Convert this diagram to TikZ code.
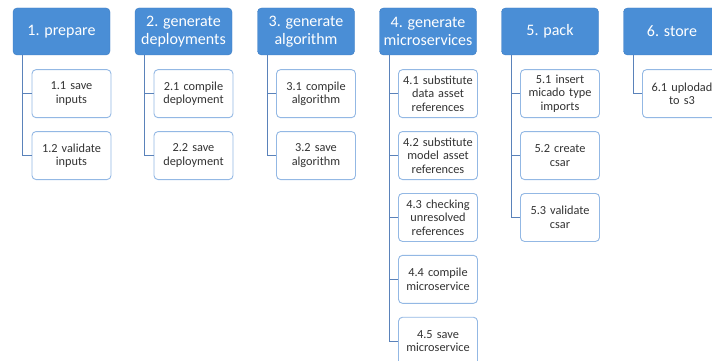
\documentclass[tikz,border=0pt]{standalone}
\usepackage{fontspec}
\setmainfont{Carlito}
\usetikzlibrary{positioning}
\definecolor{stage}{HTML}{4A8ED6}
\definecolor{stageline}{HTML}{3B7BC2}
\definecolor{task}{HTML}{93B8E4}
\definecolor{link}{HTML}{5A82BA}

\begin{document}
\begin{tikzpicture}[x=1pt,y=-1pt,
  stage/.style={rectangle,rounded corners=4pt,fill=stage,draw=stageline,text=white,minimum width=97pt,minimum height=47pt,inner sep=1pt,align=center,font=\fontsize{16}{18}\selectfont},
  task/.style={rectangle,rounded corners=4pt,fill=white,draw=task,line width=0.9pt,text=black!80,minimum width=79pt,minimum height=48pt,text width=77pt,inner sep=1pt,align=center,font=\fontsize{12.3}{13.5}\selectfont},
  link/.style={draw=link,line width=1pt}]
\useasboundingbox (0,0) rectangle (712,361);
\clip (0,0) rectangle (712,361);

\node (p1) [stage] at (61.5,31.5) {1. prepare};
\node (p2) [stage] at (183.5,31.5) {2. generate\\deployments};
\node (p3) [stage] at (306,31.5) {3. generate\\algorithm};
\node (p4) [stage] at (428,31.5) {4. generate\\microservices};
\node (p5) [stage] at (550,31.5) {5. pack};
\node (p6) [stage] at (672,31.5) {6. store};

\node (p1a) [task,below=14pt of p1,xshift=10pt] {1.1 save\\inputs};
\node (p1b) [task,below=13pt of p1a] {1.2 validate\\inputs};

\node (p2a) [task,below=14pt of p2,xshift=10pt] {2.1 compile\\deployment};
\node (p2b) [task,below=13pt of p2a] {2.2 save\\deployment};

\node (p3a) [task,below=14pt of p3,xshift=10pt] {3.1 compile\\algorithm};
\node (p3b) [task,below=13pt of p3a] {3.2 save\\algorithm};

\node (p4a) [task,below=14pt of p4,xshift=10pt] {4.1 substitute\\data asset\\references};
\node (p4b) [task,below=13pt of p4a] {4.2 substitute\\model asset\\references};
\node (p4c) [task,below=13pt of p4b] {4.3 checking\\unresolved\\references};
\node (p4d) [task,below=13pt of p4c] {4.4 compile\\microservice};
\node (p4e) [task,below=13pt of p4d] {4.5 save\\microservice};

\node (p5a) [task,below=14pt of p5,xshift=10pt] {5.1 insert\\micado type\\imports};
\node (p5b) [task,below=13pt of p5a] {5.2 create\\csar};
\node (p5c) [task,below=13pt of p5b] {5.3 validate\\csar};

\node (p6a) [task,below=14pt of p6,xshift=10pt] {6.1 uplodad\\to s3};

% tree lines
\draw[link] ([xshift=10pt]p1.south west) |- (p1a.west);
\draw[link] ([xshift=10pt]p1.south west) |- (p1b.west);
\draw[link] ([xshift=10pt]p2.south west) |- (p2a.west);
\draw[link] ([xshift=10pt]p2.south west) |- (p2b.west);
\draw[link] ([xshift=10pt]p3.south west) |- (p3a.west);
\draw[link] ([xshift=10pt]p3.south west) |- (p3b.west);
\draw[link] ([xshift=10pt]p4.south west) |- (p4a.west);
\draw[link] ([xshift=10pt]p4.south west) |- (p4b.west);
\draw[link] ([xshift=10pt]p4.south west) |- (p4c.west);
\draw[link] ([xshift=10pt]p4.south west) |- (p4d.west);
\draw[link] ([xshift=10pt]p4.south west) |- (p4e.west);
\draw[link] ([xshift=10pt]p5.south west) |- (p5a.west);
\draw[link] ([xshift=10pt]p5.south west) |- (p5b.west);
\draw[link] ([xshift=10pt]p5.south west) |- (p5c.west);
\draw[link] ([xshift=10pt]p6.south west) |- (p6a.west);
\end{tikzpicture}
\end{document}
